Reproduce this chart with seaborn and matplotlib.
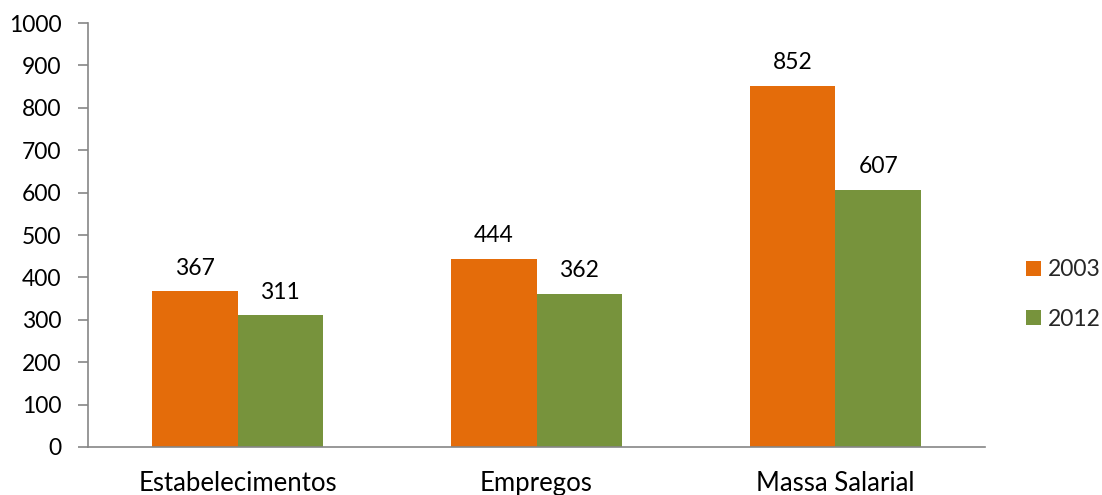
import matplotlib
matplotlib.use("Agg")
import matplotlib.pyplot as plt
import pandas as pd
import seaborn as sns

categories = ["Estabelecimentos", "Empregos", "Massa Salarial"]
years = ["2003", "2012"]
values_2003 = [367, 444, 852]
values_2012 = [311, 362, 607]

df = pd.DataFrame({
    "categoria": categories * 2,
    "ano": [years[0]] * 3 + [years[1]] * 3,
    "valor": values_2003 + values_2012,
})

sns.set_style("white")
plt.rcParams["font.family"] = ["Lato", "DejaVu Sans"]

fig = plt.figure(figsize=(11.02, 4.95), dpi=100)
ax = fig.add_axes([0.0799, 0.097, 0.8139, 0.8565])

sns.barplot(data=df, x="categoria", y="valor", hue="ano",
            palette=["#E46C0A", "#77933C"], width=0.572, saturation=1,
            linewidth=0, ax=ax, legend=True)

for cont in ax.containers:
    ax.bar_label(cont, padding=9, fontsize=16.5, color="black")

axis_col = "#868686"
ax.set_ylim(0, 1000)
ax.set_yticks(range(0, 1001, 100))
ax.set_xlim(-0.5, 2.5)
ax.set_xticks([-0.5, 0.5, 1.5, 2.5], minor=True)
ax.tick_params(axis="x", which="major", length=0, labelsize=18.5, pad=17, labelcolor="black")
ax.tick_params(axis="x", which="minor", length=7, color=axis_col, width=1.2, direction="out")
ax.tick_params(axis="y", length=7, color=axis_col, width=1.2, labelsize=16.5, pad=12,
               direction="out", left=True, labelcolor="black")
for s in ["top", "right"]:
    ax.spines[s].set_visible(False)
for s in ["left", "bottom"]:
    ax.spines[s].set_color(axis_col)
    ax.spines[s].set_linewidth(1.2)
ax.set_xlabel("")
ax.set_ylabel("")

ax.legend(loc="center left", bbox_to_anchor=(0.931, 0.405), bbox_transform=fig.transFigure,
          frameon=False, fontsize=16.5, handlelength=0.65, handleheight=0.65,
          handletextpad=0.3, labelspacing=1.25, borderaxespad=0, borderpad=0)

fig.savefig("out.png", dpi=100)
